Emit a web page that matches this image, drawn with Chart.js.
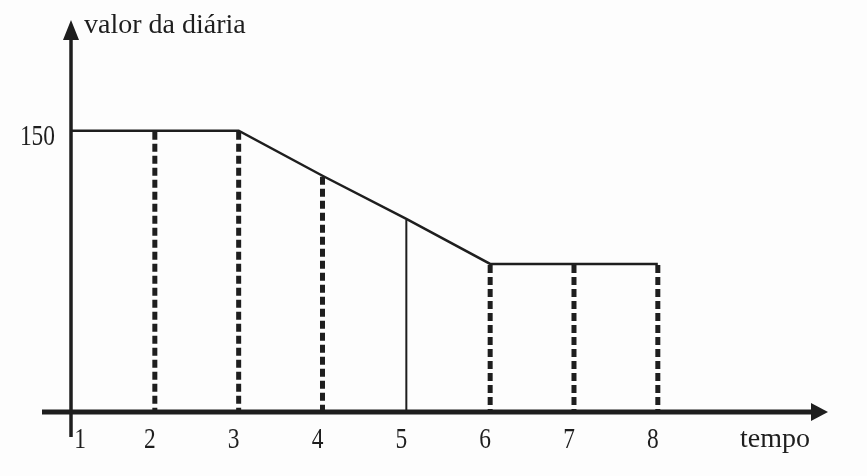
<!DOCTYPE html>
<html>
<head>
<meta charset="utf-8">
<script src="https://cdn.jsdelivr.net/npm/chart.js@4.4.0/dist/chart.umd.min.js"></script>
<style>
  html, body { margin: 0; padding: 0; background: #fdfdfd; }
  #wrap { width: 867px; height: 476px; position: relative; }
</style>
</head>
<body>
<div id="wrap"><canvas id="chart"></canvas></div>
<script>
const tempo = [1, 2, 3, 4, 5, 6, 7, 8];
const valor = [150, 150, 150, 126, 103, 79, 79, 79];
const yTicks = [150];
const yTitle = "valor da diária";
const xTitle = "tempo";

const ink = "#1e1e1e";

// widths of the dashed drop lines, per point (point 1 sits on the axis)
const dropWidth = [0, 5, 5, 5, 2, 5, 5, 5];

const axesPlugin = {
  id: "axes",
  beforeDatasetsDraw(chart) {
    const { ctx, scales: { x, y } } = chart;
    const meta = chart.getDatasetMeta(0);
    const y0 = y.getPixelForValue(0);
    ctx.save();
    ctx.strokeStyle = ink;
    ctx.lineCap = "butt";
    meta.data.forEach((pt, i) => {
      if (!dropWidth[i]) return;
      ctx.lineWidth = dropWidth[i];
      ctx.setLineDash(dropWidth[i] > 3 ? [8, 4] : []);
      ctx.beginPath();
      ctx.moveTo(pt.x, pt.y + 1);
      ctx.lineTo(pt.x, y0);
      ctx.stroke();
    });
    ctx.restore();
  },
  afterDatasetsDraw(chart) {
    const { ctx, chartArea, scales: { x, y } } = chart;
    const ax = x.getPixelForValue(1);
    const ay = y.getPixelForValue(0);
    ctx.save();
    ctx.strokeStyle = ink;
    ctx.fillStyle = ink;

    // y axis
    ctx.lineWidth = 3.5;
    ctx.beginPath();
    ctx.moveTo(ax, chartArea.bottom);
    ctx.lineTo(ax, chartArea.top + 12);
    ctx.stroke();
    ctx.beginPath();
    ctx.moveTo(ax, chartArea.top - 2);
    ctx.lineTo(ax - 8, chartArea.top + 18);
    ctx.lineTo(ax + 8, chartArea.top + 18);
    ctx.closePath();
    ctx.fill();

    // x axis
    ctx.lineWidth = 5;
    ctx.beginPath();
    ctx.moveTo(chartArea.left, ay);
    ctx.lineTo(chartArea.right - 10, ay);
    ctx.stroke();
    ctx.beginPath();
    ctx.moveTo(chartArea.right, ay);
    ctx.lineTo(chartArea.right - 17, ay - 9);
    ctx.lineTo(chartArea.right - 17, ay + 9);
    ctx.closePath();
    ctx.fill();

    // x tick labels
    ctx.font = "30px 'Liberation Serif', serif";
    ctx.textAlign = "center";
    ctx.textBaseline = "alphabetic";
    tempo.forEach((t) => {
      const px = x.getPixelForValue(t) + (t === 1 ? 9 : -5);
      ctx.save();
      ctx.translate(px, 448);
      ctx.scale(0.78, 1);
      ctx.fillText(String(t), 0, 0);
      ctx.restore();
    });

    // y tick labels
    ctx.textAlign = "right";
    yTicks.forEach((v) => {
      ctx.save();
      ctx.translate(55, y.getPixelForValue(v) + 14);
      ctx.scale(0.78, 1);
      ctx.fillText(String(v), 0, 0);
      ctx.restore();
    });

    // titles
    ctx.font = "28px 'Liberation Serif', serif";
    ctx.textAlign = "left";
    ctx.fillText(yTitle, ax + 13, 33);
    ctx.fillText(xTitle, 740, 447);
    ctx.restore();
  }
};

new Chart(document.getElementById("chart"), {
  type: "line",
  data: {
    datasets: [{
      data: tempo.map((t, i) => ({ x: t, y: valor[i] })),
      borderColor: ink,
      borderWidth: 2.5,
      pointRadius: 0,
      tension: 0,
      fill: false
    }]
  },
  options: {
    responsive: true,
    maintainAspectRatio: false,
    animation: false,
    layout: { padding: { left: 42, right: 39, top: 22, bottom: 39 } },
    plugins: { legend: { display: false }, tooltip: { enabled: false } },
    scales: {
      x: { type: "linear", min: 0.654, max: 10.03, display: false },
      y: { type: "linear", min: -13.3, max: 208, display: false }
    }
  },
  plugins: [axesPlugin]
});
</script>
</body>
</html>
